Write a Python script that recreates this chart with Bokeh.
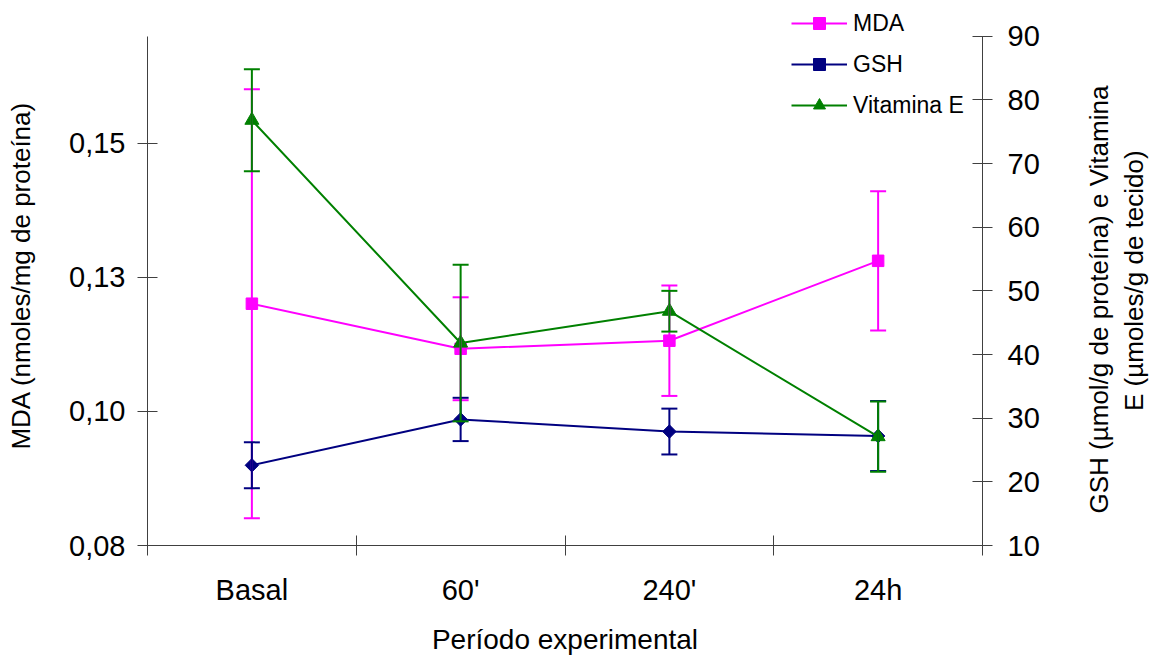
import math
from bokeh.plotting import figure
from bokeh.layouts import row
from bokeh.models import (Range1d, LinearAxis, FixedTicker, Whisker, TeeHead,
                          ColumnDataSource, Legend, LegendItem)
from bokeh.core.properties import value
from bokeh.embed import file_html
from bokeh.resources import INLINE

# ---- data ----
categories = ["Basal", "60'", "240'", "24h"]
mda = [0.1251, 0.1167, 0.1182, 0.1331]
mda_err = [0.0400, 0.0096, 0.0103, 0.0130]
gsh = [22.6, 29.8, 27.9, 27.2]
gsh_err = [3.6, 3.4, 3.6, 5.5]
vite = [76.8, 41.8, 46.8, 27.1]
vite_err = [8.0, 12.3, 3.2, 5.5]

left_bounds = (0.08, 0.175)
left_ticks = [0.08, 0.105, 0.13, 0.155]
left_tick_labels = ["0,08", "0,10", "0,13", "0,15"]
right_bounds = (10, 90)
right_ticks = [10, 20, 30, 40, 50, 60, 70, 80, 90]
right_title = ["GSH (µmol/g de proteína) e Vitamina", "E (µmoles/g de tecido)"]

FONT = "Liberation Sans"
AX = "#404040"
FRAME_W, FRAME_H = 835, 540
TOTAL_H = 655
AXIS_PX = 509.3          # pixel length of the y axes
ext = FRAME_H / AXIS_PX  # frame is taller than the axes so the legend fits inside

xs = [i + 0.5 for i in range(len(categories))]
edges = [float(i) for i in range(len(categories) + 1)]

left_range = Range1d(left_bounds[0], left_bounds[0] + (left_bounds[1] - left_bounds[0]) * ext)
right_range = Range1d(right_bounds[0], right_bounds[0] + (right_bounds[1] - right_bounds[0]) * ext)

p = figure(frame_width=FRAME_W, frame_height=FRAME_H,
           x_range=Range1d(0, len(categories)), y_range=left_range,
           output_backend="svg", toolbar_location=None,
           min_border_left=147, min_border_right=60, min_border_top=5,
           min_border_bottom=TOTAL_H - FRAME_H - 5,
           outline_line_color=None, background_fill_color="white", border_fill_color="white")
p.grid.visible = False
p.extra_y_ranges = {"right": right_range}

# x axis
xa = p.xaxis[0]
xa.ticker = FixedTicker(ticks=xs, minor_ticks=edges)
xa.major_label_overrides = {x: c for x, c in zip(xs, categories)}
xa.major_tick_in = 0
xa.major_tick_out = 0
xa.minor_tick_in = 10
xa.minor_tick_out = 10
xa.minor_tick_line_color = AX
xa.axis_line_color = AX
xa.major_label_standoff = 18
xa.axis_label = "Período experimental"
xa.axis_label_standoff = 15
xa.axis_label_text_font_size = "28px"
xa.axis_label_text_font_style = "normal"
xa.axis_label_text_font = FONT
xa.axis_label_text_color = "black"
xa.major_label_text_font_size = "29px"
xa.major_label_text_font = FONT
xa.major_label_text_color = "black"

# left axis
ya = p.yaxis[0]
ya.bounds = left_bounds
ya.ticker = FixedTicker(ticks=left_ticks, minor_ticks=[])
ya.major_label_overrides = {t: l for t, l in zip(left_ticks, left_tick_labels)}
ya.major_tick_in = 10
ya.major_tick_out = 10
ya.minor_tick_in = 0
ya.minor_tick_out = 0
ya.major_tick_line_color = AX
ya.axis_line_color = AX
ya.major_label_standoff = 12
ya.major_label_text_font_size = "29px"
ya.major_label_text_font = FONT
ya.major_label_text_color = "black"
ya.axis_label = "MDA (nmoles/mg de proteína)"
ya.axis_label_standoff = 30
ya.axis_label_text_font_size = "26px"
ya.axis_label_text_font_style = "normal"
ya.axis_label_text_font = FONT
ya.axis_label_text_color = "black"

# right axis (its title is drawn in the narrow panel next to the plot)
ra = LinearAxis(y_range_name="right", ticker=FixedTicker(ticks=right_ticks, minor_ticks=[]))
ra.bounds = right_bounds
ra.major_tick_in = 10
ra.major_tick_out = 10
ra.minor_tick_in = 0
ra.minor_tick_out = 0
ra.major_tick_line_color = AX
ra.axis_line_color = AX
ra.major_label_standoff = 15
ra.major_label_text_font_size = "29px"
ra.major_label_text_font = FONT
ra.major_label_text_color = "black"
p.add_layout(ra, "right")

series = [
    ("MDA", mda, mda_err, "#FF00FF", "default", dict(marker="square", size=11.5, angle=0)),
    ("GSH", gsh, gsh_err, "#000080", "right", dict(marker="square", size=9.5, angle=math.pi / 4)),
    ("Vitamina E", vite, vite_err, "#008000", "right", dict(marker="triangle", size=14, angle=0)),
]

items = []
for name, vals, errs, color, rng, mk in series:
    src = ColumnDataSource(dict(x=xs, y=vals,
                                lo=[v - e for v, e in zip(vals, errs)],
                                hi=[v + e for v, e in zip(vals, errs)]))
    w = Whisker(base="x", lower="lo", upper="hi", source=src, level="glyph",
                line_color=color, line_width=2, y_range_name=rng,
                upper_head=TeeHead(size=16, line_color=color, line_width=2),
                lower_head=TeeHead(size=16, line_color=color, line_width=2))
    p.add_layout(w)
    ln = p.line("x", "y", source=src, line_color=color, line_width=2, y_range_name=rng)
    sc = p.scatter("x", "y", source=src, marker=mk["marker"], size=mk["size"], angle=mk["angle"],
                   fill_color=color, line_color=color, y_range_name=rng)
    items.append(LegendItem(label=name, renderers=[ln, sc]))

legend = Legend(items=items, location=(644, 425), glyph_width=56, glyph_height=30,
                label_standoff=6, padding=0, spacing=11, margin=0,
                border_line_color=None, background_fill_alpha=0,
                label_text_font=FONT, label_text_font_size="23px", label_text_color="black")
p.add_layout(legend)

# narrow panel holding the right-axis title, two lines reading bottom-to-top
PW = 108
p2 = figure(width=PW, height=TOTAL_H, x_range=Range1d(0, PW), y_range=Range1d(0, TOTAL_H),
            output_backend="svg", toolbar_location=None,
            x_axis_location=None, y_axis_location=None,
            min_border=0, outline_line_color=None,
            background_fill_color="white", border_fill_color="white")
p2.grid.visible = False
p2.text(x=[56, 91], y=[297, 320], text=right_title, angle=math.pi / 2,
        text_align="center", text_baseline="middle",
        text_font=value(FONT), text_font_size="26px", text_color="black")

layout = row(p, p2, spacing=0)
open("out.html", "w").write(file_html(layout, INLINE))
